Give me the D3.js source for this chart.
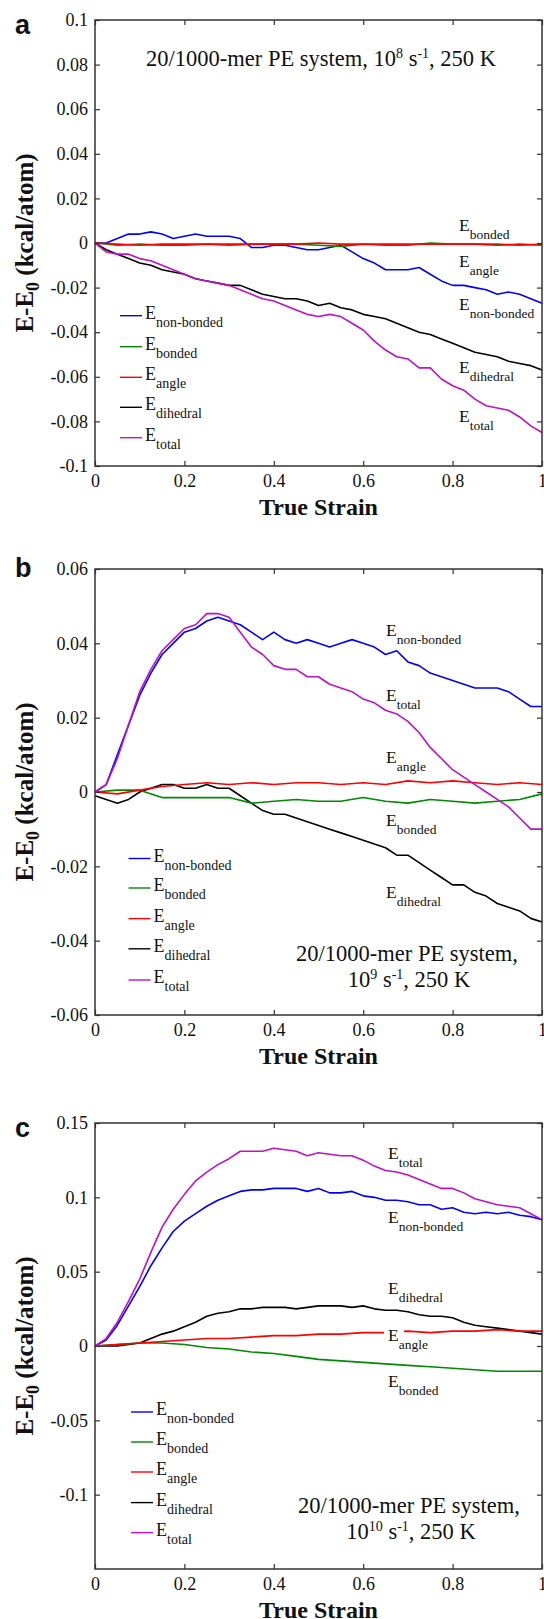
<!DOCTYPE html>
<html>
<head>
<meta charset="utf-8">
<script src="https://cdn.jsdelivr.net/npm/d3@7/dist/d3.min.js"></script>
<style>
  body { margin: 0; background: #fff; }
  text { font-family: "Liberation Serif", "Times New Roman", serif; fill: #111; }
</style>
</head>
<body>
<svg id="fig" width="544" height="1619"></svg>
<script>
// strain grids
var strainFine = [0, 0.025, 0.05, 0.075, 0.1, 0.125, 0.15, 0.175, 0.2, 0.225, 0.25, 0.275, 0.3, 0.325, 0.35, 0.375, 0.4,
    0.425, 0.45, 0.475, 0.5, 0.525, 0.55, 0.575, 0.6, 0.625, 0.65, 0.675, 0.7, 0.725, 0.75, 0.775, 0.8, 0.825, 0.85, 0.875,
    0.9, 0.925, 0.95, 0.975, 1];
var strainCoarse = [0, 0.05, 0.1, 0.15, 0.2, 0.25, 0.3, 0.35, 0.4, 0.45, 0.5, 0.55, 0.6, 0.65, 0.7, 0.75, 0.8, 0.85, 0.9, 0.95, 1];

var seriesNames = ["non-bonded", "bonded", "angle", "dihedral", "total"];
var seriesColors = { "non-bonded": "#0000ff", "bonded": "#008a00", "angle": "#ff0000", "dihedral": "#000000", "total": "#c010c8" };
var drawOrder = ["dihedral", "non-bonded", "bonded", "angle", "total"];

var xTicks = [0, 0.2, 0.4, 0.6, 0.8, 1];

// panel a : 10^8 s^-1
var yTicksA = [-0.1, -0.08, -0.06, -0.04, -0.02, 0, 0.02, 0.04, 0.06, 0.08, 0.1];
var nonBondedA = [0, 0, 0.002, 0.004, 0.004, 0.005, 0.004, 0.002, 0.003, 0.004, 0.003, 0.003, 0.003, 0.002, -0.002, -0.002,
    -0.001, -0.001, -0.002, -0.003, -0.003, -0.002, -0.001, -0.004, -0.007, -0.009, -0.012, -0.012, -0.012, -0.011, -0.014,
    -0.017, -0.019, -0.019, -0.020, -0.021, -0.023, -0.022, -0.023, -0.025, -0.027];
var bondedA = [0, -0.001, -0.0005, -0.001, -0.001, -0.0005, -0.001, -0.0005, -0.0005, -0.0005, -0.001, -0.0015, -0.0005,
    -0.001, -0.001, 0.0, -0.0005, -0.0005, -0.0005, -0.001, -0.0005];
var angleA = [0, -0.0005, -0.001, -0.0005, -0.0005, -0.0005, -0.0005, -0.0005, -0.0005, -0.0005, 0, -0.0005, -0.0005,
    -0.0005, -0.0005, -0.0005, -0.0005, -0.0005, -0.001, -0.0005, -0.001];
var dihedralA = [0, -0.003, -0.005, -0.007, -0.009, -0.010, -0.012, -0.013, -0.014, -0.016, -0.017, -0.018, -0.019, -0.019,
    -0.021, -0.023, -0.024, -0.025, -0.025, -0.026, -0.028, -0.027, -0.029, -0.030, -0.032, -0.033, -0.034, -0.036, -0.038,
    -0.040, -0.041, -0.043, -0.045, -0.047, -0.049, -0.050, -0.051, -0.053, -0.054, -0.055, -0.057];
var totalA = [0, -0.004, -0.005, -0.005, -0.007, -0.008, -0.010, -0.012, -0.014, -0.016, -0.017, -0.018, -0.019, -0.021,
    -0.023, -0.025, -0.026, -0.028, -0.030, -0.032, -0.033, -0.032, -0.033, -0.036, -0.039, -0.044, -0.048, -0.051, -0.052,
    -0.056, -0.056, -0.061, -0.064, -0.066, -0.070, -0.073, -0.074, -0.075, -0.078, -0.082, -0.085];

// panel b : 10^9 s^-1
var yTicksB = [-0.06, -0.04, -0.02, 0, 0.02, 0.04, 0.06];
var nonBondedB = [0, 0.002, 0.010, 0.018, 0.026, 0.032, 0.037, 0.040, 0.043, 0.044, 0.046, 0.047, 0.046, 0.045, 0.043,
    0.041, 0.043, 0.041, 0.040, 0.041, 0.040, 0.039, 0.040, 0.041, 0.040, 0.039, 0.037, 0.038, 0.035, 0.034, 0.032, 0.031,
    0.030, 0.029, 0.028, 0.028, 0.028, 0.027, 0.025, 0.023, 0.023];
var bondedB = [0, 0.0005, 0.0005, -0.0015, -0.0015, -0.0015, -0.0015, -0.003, -0.0025, -0.002, -0.0025, -0.0025, -0.0015,
    -0.0025, -0.003, -0.002, -0.0025, -0.003, -0.0025, -0.002, -0.0005];
var angleB = [0, -0.0005, 0.0005, 0.0015, 0.002, 0.0025, 0.002, 0.0025, 0.002, 0.0025, 0.0025, 0.002, 0.0025, 0.002,
    0.003, 0.0025, 0.003, 0.0025, 0.002, 0.0025, 0.002];
var dihedralB = [-0.001, -0.002, -0.003, -0.002, 0.000, 0.001, 0.002, 0.002, 0.001, 0.001, 0.002, 0.001, 0.001, -0.001,
    -0.003, -0.005, -0.006, -0.006, -0.007, -0.008, -0.009, -0.010, -0.011, -0.012, -0.013, -0.014, -0.015, -0.017, -0.017,
    -0.019, -0.021, -0.023, -0.025, -0.025, -0.027, -0.028, -0.030, -0.031, -0.032, -0.034, -0.035];
var totalB = [0, 0.002, 0.009, 0.018, 0.027, 0.033, 0.038, 0.041, 0.044, 0.045, 0.048, 0.048, 0.047, 0.043, 0.039, 0.037,
    0.034, 0.033, 0.033, 0.031, 0.031, 0.029, 0.028, 0.027, 0.025, 0.024, 0.022, 0.021, 0.019, 0.016, 0.012, 0.009, 0.006,
    0.004, 0.002, 0.000, -0.002, -0.004, -0.007, -0.010, -0.010];

// panel c : 10^10 s^-1
var yTicksC = [-0.1, -0.05, 0, 0.05, 0.1, 0.15];
var nonBondedC = [0, 0.004, 0.014, 0.027, 0.040, 0.054, 0.066, 0.077, 0.084, 0.089, 0.094, 0.098, 0.101, 0.104, 0.105,
    0.105, 0.106, 0.106, 0.106, 0.104, 0.106, 0.103, 0.103, 0.104, 0.101, 0.100, 0.098, 0.098, 0.097, 0.095, 0.095, 0.092,
    0.093, 0.090, 0.089, 0.090, 0.089, 0.090, 0.088, 0.087, 0.085];
var bondedC = [0, 0.001, 0.002, 0.002, 0.001, -0.001, -0.002, -0.004, -0.005, -0.007, -0.009, -0.010, -0.011, -0.012,
    -0.013, -0.014, -0.015, -0.016, -0.017, -0.017, -0.017];
var angleC = [0, 0.001, 0.002, 0.003, 0.004, 0.005, 0.005, 0.006, 0.007, 0.007, 0.008, 0.008, 0.009, 0.009, 0.010, 0.009,
    0.010, 0.010, 0.011, 0.010, 0.010];
var dihedralC = [0, 0, 0, 0.001, 0.002, 0.005, 0.008, 0.010, 0.013, 0.016, 0.020, 0.022, 0.023, 0.025, 0.025, 0.026,
    0.026, 0.026, 0.025, 0.026, 0.027, 0.027, 0.027, 0.026, 0.027, 0.025, 0.024, 0.024, 0.023, 0.021, 0.020, 0.020, 0.019,
    0.016, 0.014, 0.013, 0.012, 0.011, 0.010, 0.009, 0.008];
var totalC = [0, 0.005, 0.016, 0.030, 0.045, 0.063, 0.080, 0.092, 0.102, 0.111, 0.117, 0.122, 0.126, 0.131, 0.131, 0.131,
    0.133, 0.132, 0.131, 0.128, 0.130, 0.129, 0.128, 0.128, 0.125, 0.121, 0.118, 0.117, 0.115, 0.112, 0.109, 0.106, 0.106,
    0.103, 0.099, 0.097, 0.095, 0.094, 0.093, 0.089, 0.085];

var rateA = "8", rateB = "9", rateC = "10";

var svg = d3.select("#fig");
var L = 95, R = 542, H = 446;

var panels = [
    {
        letter: "a", top: 20, letterY: 34, yDomain: [-0.1, 0.1], yTicks: yTicksA,
        series: { "non-bonded": [strainFine, nonBondedA], "bonded": [strainCoarse, bondedA], "angle": [strainCoarse, angleA],
                  "dihedral": [strainFine, dihedralA], "total": [strainFine, totalA] },
        legend: { x: 120, rows: [315.7, 346.7, 377.3, 407.3, 437.7] },
        tags: { x: 459, y: { "bonded": 231, "angle": 267, "non-bonded": 310, "dihedral": 373, "total": 422 } },
        note: { x: 321, ys: [66], rate: rateA, oneLine: true }
    },
    {
        letter: "b", top: 569, letterY: 577, yDomain: [-0.06, 0.06], yTicks: yTicksB,
        series: { "non-bonded": [strainFine, nonBondedB], "bonded": [strainCoarse, bondedB], "angle": [strainCoarse, angleB],
                  "dihedral": [strainFine, dihedralB], "total": [strainFine, totalB] },
        legend: { x: 128.5, rows: [858.5, 888, 918.6, 948.8, 980] },
        tags: { x: 386, y: { "non-bonded": 636, "total": 701, "angle": 763, "bonded": 826, "dihedral": 898 } },
        note: { x: 407, ys: [961, 987], rate: rateB }
    },
    {
        letter: "c", top: 1123, letterY: 1137, yDomain: [-0.15, 0.15], yTicks: yTicksC,
        series: { "non-bonded": [strainFine, nonBondedC], "bonded": [strainCoarse, bondedC], "angle": [strainCoarse, angleC],
                  "dihedral": [strainFine, dihedralC], "total": [strainFine, totalC] },
        legend: { x: 131, rows: [1412, 1442, 1472, 1502.6, 1532.6] },
        tags: { x: 388, y: { "total": 1159, "non-bonded": 1223, "dihedral": 1294, "angle": 1341, "bonded": 1387 }, masked: "angle" },
        note: { x: 409, ys: [1513, 1539], rate: rateC }
    }
];

function eLabel(g, x, y, sub, fs, subFs) {
    var t = g.append("text").attr("x", x).attr("y", y).attr("font-size", fs);
    t.append("tspan").text("E");
    t.append("tspan").attr("dy", 8).attr("font-size", subFs).text(sub);
    return t;
}

panels.forEach(function(p) {
    var bottom = p.top + H;
    var x = d3.scaleLinear().domain([0, 1]).range([L, R]);
    var y = d3.scaleLinear().domain(p.yDomain).range([bottom, p.top]);
    var g = svg.append("g");

    // curves
    var line = d3.line().x(function(d) { return x(d[0]); }).y(function(d) { return y(d[1]); });
    drawOrder.forEach(function(name) {
        var s = p.series[name];
        var pts = d3.zip(s[0], s[1]);
        g.append("path").attr("d", line(pts))
            .attr("fill", "none").attr("stroke", seriesColors[name])
            .attr("stroke-width", 1.6).attr("stroke-linejoin", "round");
    });

    // white patch under the angle tag (the red curve is hidden there in panel c)
    if (p.tags.masked) {
        g.append("rect").attr("x", p.tags.x - 4).attr("y", p.tags.y[p.tags.masked] - 14)
            .attr("width", 20).attr("height", 16).attr("fill", "#fff");
    }

    // axes, ticks pointing inwards on all four sides
    var fmt = function(d) { return d === 0 ? "0" : String(d); };
    var ax = [
        g.append("g").attr("transform", "translate(0," + bottom + ")").call(d3.axisBottom(x).tickValues(xTicks).tickSize(-5).tickPadding(8).tickFormat(fmt)),
        g.append("g").attr("transform", "translate(0," + p.top + ")").call(d3.axisTop(x).tickValues(xTicks).tickSize(-5).tickFormat("")),
        g.append("g").attr("transform", "translate(" + L + ",0)").call(d3.axisLeft(y).tickValues(p.yTicks).tickSize(-5).tickPadding(7).tickFormat(fmt)),
        g.append("g").attr("transform", "translate(" + R + ",0)").call(d3.axisRight(y).tickValues(p.yTicks).tickSize(-5).tickFormat(""))
    ];
    ax.forEach(function(a) {
        a.select(".domain").remove();
        a.selectAll(".tick line").attr("stroke", "#333").attr("stroke-width", 1.2);
        a.selectAll(".tick text").attr("font-family", "Liberation Serif, Times New Roman, serif")
            .attr("font-size", 18).attr("fill", "#111");
    });
    g.append("rect").attr("x", L).attr("y", p.top).attr("width", R - L).attr("height", H)
        .attr("fill", "none").attr("stroke", "#333").attr("stroke-width", 1.5);

    // axis titles
    g.append("text").attr("x", (L + R) / 2).attr("y", bottom + 49).attr("text-anchor", "middle")
        .attr("font-size", 24).attr("font-weight", "bold").text("True Strain");
    var yt = g.append("text").attr("transform", "translate(33," + (p.top + H / 2) + ") rotate(-90)")
        .attr("text-anchor", "middle").attr("font-size", 25).attr("font-weight", "bold");
    yt.append("tspan").text("E-E");
    yt.append("tspan").attr("dy", 6).attr("font-size", 18).text("0");
    yt.append("tspan").attr("dy", -6).text(" (kcal/atom)");

    // panel letter
    g.append("text").attr("x", 15).attr("y", p.letterY)
        .style("font-family", "'Liberation Sans', Arial, sans-serif")
        .attr("font-size", 27).attr("font-weight", "bold").text(p.letter);

    // legend
    seriesNames.forEach(function(name, i) {
        var ly = p.legend.rows[i];
        g.append("line").attr("x1", p.legend.x).attr("x2", p.legend.x + 22).attr("y1", ly).attr("y2", ly)
            .attr("stroke", seriesColors[name]).attr("stroke-width", 1.4);
        eLabel(g, p.legend.x + 25, ly + 3, name, 18, 14);
    });

    // curve tags at the right
    seriesNames.forEach(function(name) {
        eLabel(g, p.tags.x, p.tags.y[name], name, 17.5, 13.5);
    });

    // condition note
    var n = p.note;
    if (n.oneLine) {
        var t = g.append("text").attr("x", n.x).attr("y", n.ys[0]).attr("text-anchor", "middle").attr("font-size", 22.5);
        t.append("tspan").text("20/1000-mer PE system, 10");
        t.append("tspan").attr("dy", -8).attr("font-size", 14).text(n.rate);
        t.append("tspan").attr("dy", 8).text(" s");
        t.append("tspan").attr("dy", -8).attr("font-size", 14).text("-1");
        t.append("tspan").attr("dy", 8).text(", 250 K");
    } else {
        g.append("text").attr("x", n.x).attr("y", n.ys[0]).attr("text-anchor", "middle").attr("font-size", 22.5)
            .text("20/1000-mer PE system,");
        var t2 = g.append("text").attr("x", n.x + 2).attr("y", n.ys[1]).attr("text-anchor", "middle").attr("font-size", 22.5);
        t2.append("tspan").text("10");
        t2.append("tspan").attr("dy", -8).attr("font-size", 14).text(n.rate);
        t2.append("tspan").attr("dy", 8).text(" s");
        t2.append("tspan").attr("dy", -8).attr("font-size", 14).text("-1");
        t2.append("tspan").attr("dy", 8).text(", 250 K");
    }
});
</script>
</body>
</html>
